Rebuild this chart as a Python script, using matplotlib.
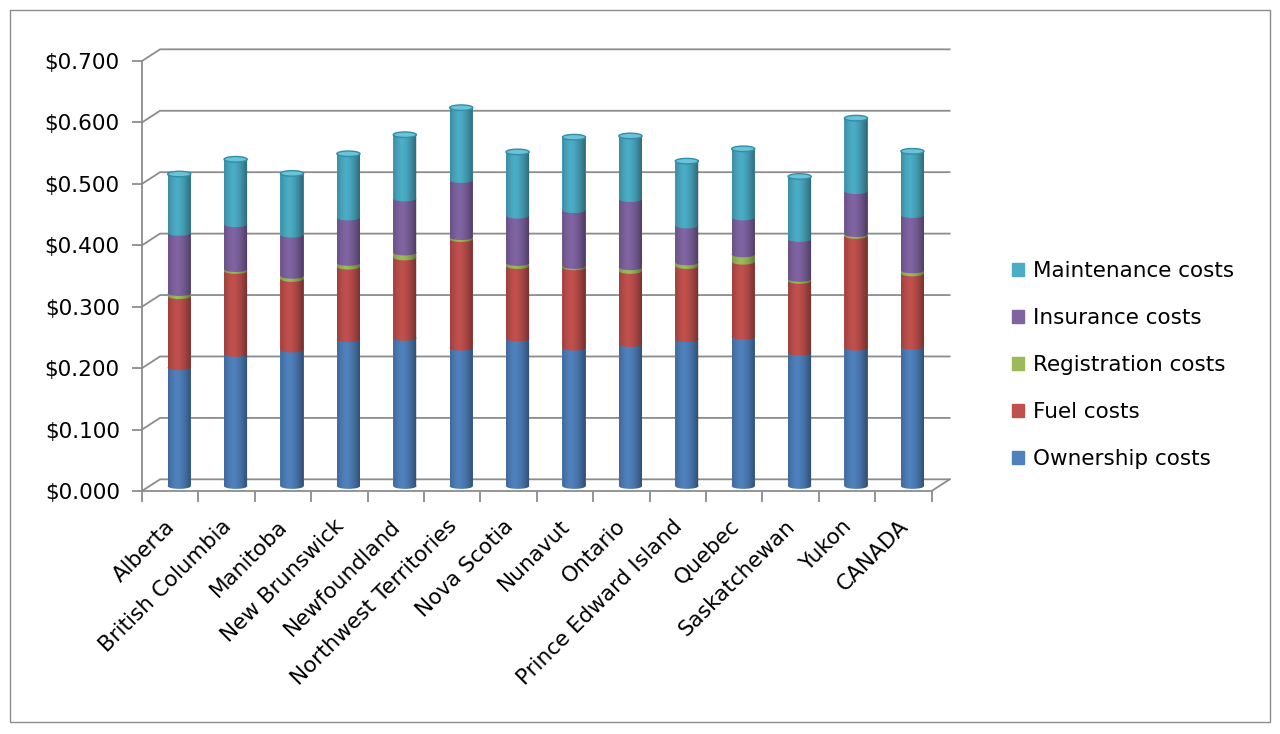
import numpy as np
import matplotlib.pyplot as plt
from matplotlib.patches import Ellipse, Patch, PathPatch, Rectangle
from matplotlib.path import Path

plt.rcParams['font.family'] = ['DejaVu Sans']

# cost per km by province / territory
provinces = ['Alberta', 'British Columbia', 'Manitoba', 'New Brunswick', 'Newfoundland',
             'Northwest Territories', 'Nova Scotia', 'Nunavut', 'Ontario',
             'Prince Edward Island', 'Quebec', 'Saskatchewan', 'Yukon', 'CANADA']
ownership = [0.193, 0.215, 0.222, 0.239, 0.241, 0.225, 0.240, 0.225, 0.231, 0.239, 0.243, 0.217, 0.225, 0.227]
fuel = [0.116, 0.135, 0.115, 0.118, 0.131, 0.177, 0.118, 0.131, 0.119, 0.119, 0.122, 0.117, 0.182, 0.119]
registration = [0.005, 0.003, 0.005, 0.006, 0.008, 0.003, 0.005, 0.002, 0.006, 0.006, 0.012, 0.003, 0.003, 0.005]
insurance = [0.098, 0.073, 0.067, 0.074, 0.088, 0.093, 0.077, 0.091, 0.111, 0.060, 0.060, 0.065, 0.070, 0.090]
maintenance = [0.096, 0.106, 0.100, 0.104, 0.104, 0.118, 0.104, 0.119, 0.103, 0.105, 0.112, 0.102, 0.119, 0.104]

series = [('Ownership costs', ownership, '#4F81BD'),
          ('Fuel costs', fuel, '#C0504D'),
          ('Registration costs', registration, '#9BBB59'),
          ('Insurance costs', insurance, '#8064A2'),
          ('Maintenance costs', maintenance, '#4BACC6')]
yticks = np.arange(0, 0.71, 0.1)
fs = 15.5

fig = plt.figure(figsize=(12.8, 7.34), dpi=100)
ax = fig.add_axes([142 / 1280, 1 - 491 / 734, 789.6 / 1280, 430 / 734])
ax.set_xlim(-0.5, 13.5)
ax.set_ylim(0, 0.7)
for s in ax.spines.values():
    s.set_visible(False)

grid = '#8c8c8c'
dx, dy = 0.32, 0.019  # depth of the fake 3d wall
for v in yticks:
    ax.plot([-0.5, -0.5 + dx, 13.5 + dx], [v, v + dy, v + dy], color=grid, lw=1.3,
            clip_on=False, zorder=1)
ax.plot([-0.5, -0.5], [0, 0.7], color=grid, lw=1.3, clip_on=False, zorder=1)
ax.plot([-0.5, 13.5, 13.5 + dx], [0, 0, dy], color=grid, lw=1.3, clip_on=False, zorder=1)

# cylinders
x = np.arange(len(provinces)) + dx / 2
w = 0.41
eh = 0.009
base = 0.008
bottom = np.full(len(provinces), base)
z = 3
for name, vals, col in series:
    vals = np.array(vals)
    ax.bar(x, vals, width=w, bottom=bottom, color=col, lw=0, zorder=z)
    for xi, b in zip(x, bottom):
        ax.add_patch(Ellipse((xi, b), w, eh, color=col, lw=0, zorder=z + 0.5))
    bottom = bottom + vals
    z += 1
for xi, top in zip(x, bottom):
    ax.add_patch(Ellipse((xi, top), w, eh, facecolor='#6cc3d8', edgecolor='#2f8ea8',
                         lw=1, zorder=z + 1))

# shading across each cylinder
t = np.linspace(0, 1, 64)
alpha = 0.42 * (np.abs(t - 0.38) / 0.62) ** 1.6
shade = np.zeros((1, 64, 4))
shade[0, :, 3] = alpha
th = np.linspace(np.pi, 2 * np.pi, 30)
for xi, top in zip(x, bottom):
    lo = np.column_stack([xi + w / 2 * np.cos(th), base + eh / 2 * np.sin(th)])
    hi = np.column_stack([xi + w / 2 * np.cos(th - np.pi), top + eh / 2 * np.sin(th - np.pi)])
    pts = np.vstack([lo, hi, lo[:1]])
    clip = PathPatch(Path(pts), transform=ax.transData, visible=False)
    ax.add_patch(clip)
    im = ax.imshow(shade, extent=(xi - w / 2, xi + w / 2, base - eh, top + eh),
                   aspect='auto', zorder=z, interpolation='bilinear')
    im.set_clip_path(clip)

ax.set_xlim(-0.5, 13.5)
ax.set_ylim(0, 0.7)

ax.set_yticks(yticks)
ax.set_yticklabels(['$%.3f' % v for v in yticks], fontsize=fs)
ax.tick_params(axis='y', length=7, color=grid, width=1.3, pad=9)
ax.set_xticks(np.arange(-0.5, 14, 1), minor=True)
ax.tick_params(axis='x', which='minor', length=8, color=grid, width=1.3)
ax.set_xticks(x - 0.26)
ax.set_xticklabels(provinces, rotation=45, ha='right', rotation_mode='anchor', fontsize=fs)
ax.tick_params(axis='x', which='major', length=0, pad=18)

handles = [Patch(color=c, label=n) for n, _, c in series][::-1]
fig.legend(handles=handles, loc='center left', bbox_to_anchor=(993 / 1280, 1 - 365 / 734),
           frameon=False, fontsize=fs, handlelength=0.55, handleheight=0.55,
           handletextpad=0.4, labelspacing=1.25)

fig.add_artist(Rectangle((10 / 1280, 12 / 734), 1260 / 1280, 712 / 734, transform=fig.transFigure,
                         fill=False, ec='#8c8c8c', lw=1))

fig.savefig('out.png', dpi=100, facecolor='white')
